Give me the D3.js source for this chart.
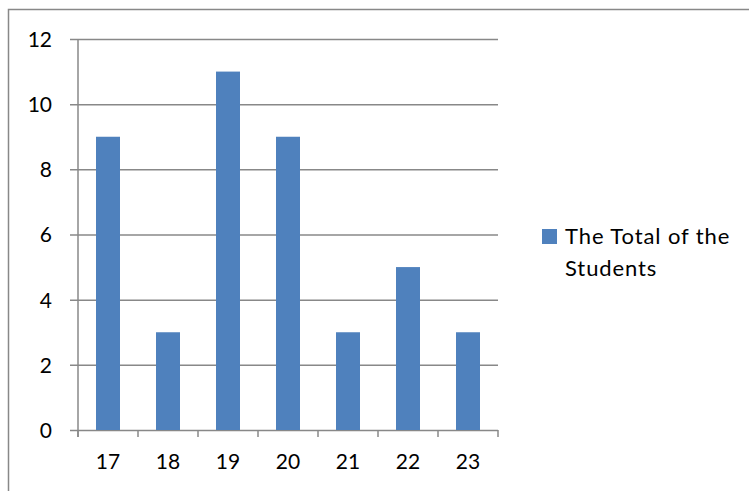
<!DOCTYPE html>
<html>
<head>
<meta charset="utf-8">
<script src="https://cdn.jsdelivr.net/npm/d3@7"></script>
<style>
  html, body { margin: 0; padding: 0; background: #fff; }
  svg { display: block; }
  text { font-family: Lato, "Open Sans", "Liberation Sans", sans-serif; fill: #000; }
</style>
</head>
<body>
<svg id="chart" width="749" height="491"></svg>
<script>
// Ages and how many students have each age
const categories = ["17", "18", "19", "20", "21", "22", "23"];
const totals = [9, 3, 11, 9, 3, 5, 3];
const yTicks = [0, 2, 4, 6, 8, 10, 12];
const seriesName = ["The Total of the", "Students"];

const svg = d3.select("#chart");
const W = 749, H = 491;
const plot = { left: 78, right: 498, top: 39, bottom: 430 };
const barColor = "#4F81BD";
const lineColor = "#888888";

// Outer frame
svg.append("rect")
  .attr("x", 8.5).attr("y", 9.5)
  .attr("width", W).attr("height", H)
  .attr("fill", "none").attr("stroke", lineColor).attr("stroke-width", 1.5);

const x = d3.scaleBand().domain(categories).range([plot.left, plot.right]).paddingInner(0.6).paddingOuter(0.3);
const xEdges = d3.scaleLinear().domain([0, categories.length]).range([plot.left, plot.right]);
const y = d3.scaleLinear().domain([0, 12]).range([plot.bottom, plot.top]);

// Horizontal gridlines with outward ticks
const yAxis = d3.axisLeft(y).tickValues(yTicks).tickSize(-(plot.right - plot.left)).tickFormat(d3.format("d"));
const gy = svg.append("g").attr("transform", `translate(${plot.left},0)`).call(yAxis);
gy.select(".domain").remove();
gy.selectAll(".tick line").attr("stroke", lineColor).attr("stroke-width", 1.5).attr("x1", -8);
gy.selectAll(".tick text").attr("font-size", 21).attr("dy", "0.35em").attr("x", -26);

// Vertical axis line
svg.append("line")
  .attr("x1", plot.left).attr("x2", plot.left)
  .attr("y1", plot.top).attr("y2", plot.bottom + 7)
  .attr("stroke", lineColor).attr("stroke-width", 1.5);

// Bars
svg.append("g").selectAll("rect")
  .data(totals)
  .join("rect")
  .attr("x", (d, i) => x(categories[i]))
  .attr("width", x.bandwidth())
  .attr("y", d => y(d))
  .attr("height", d => y(0) - y(d))
  .attr("fill", barColor);

// Category axis: boundary ticks between categories
const gx = svg.append("g");
gx.selectAll("line.tick")
  .data(d3.range(categories.length + 1))
  .join("line")
  .attr("x1", d => xEdges(d)).attr("x2", d => xEdges(d))
  .attr("y1", plot.bottom).attr("y2", plot.bottom + 7)
  .attr("stroke", lineColor).attr("stroke-width", 1.5);
gx.selectAll("text")
  .data(categories)
  .join("text")
  .attr("x", d => x(d) + x.bandwidth() / 2)
  .attr("y", 462)
  .attr("dy", "0.35em")
  .attr("text-anchor", "middle")
  .attr("font-size", 21)
  .text(d => d);

// Legend
const lg = svg.append("g");
lg.append("rect").attr("x", 542).attr("y", 229).attr("width", 15).attr("height", 15).attr("fill", barColor);
lg.selectAll("text")
  .data(seriesName)
  .join("text")
  .attr("x", 565)
  .attr("y", (d, i) => 244 + i * 32)
  .attr("font-size", 22)
  .attr("letter-spacing", "0.9px")
  .text(d => d);
</script>
</body>
</html>
